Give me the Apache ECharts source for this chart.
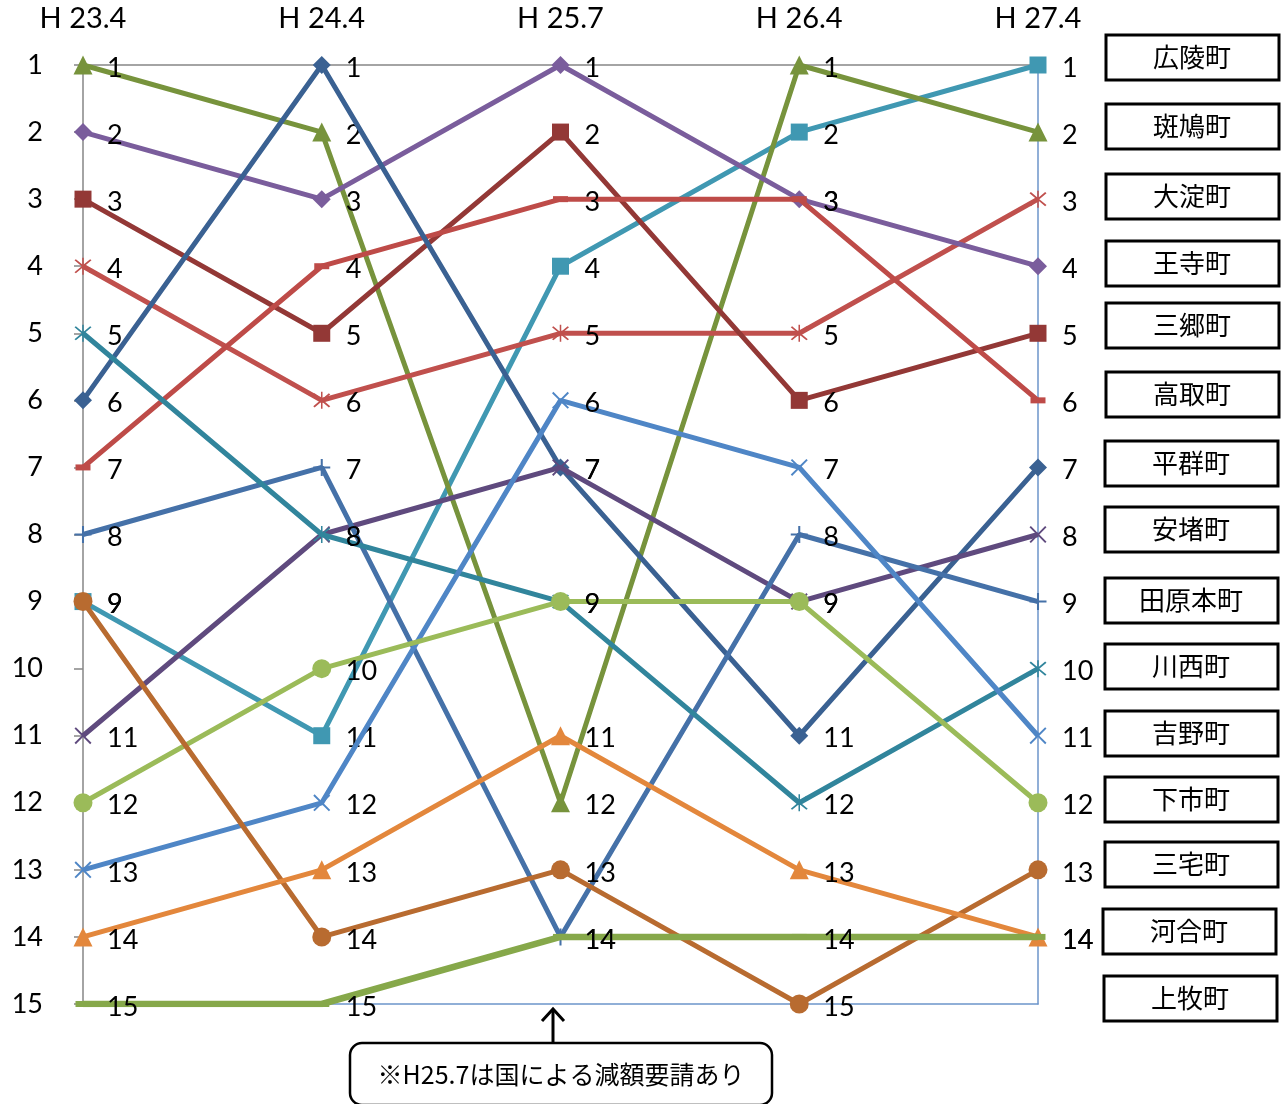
<!DOCTYPE html>
<html>
<head>
<meta charset="utf-8">
<script src="https://cdn.jsdelivr.net/npm/echarts@6/dist/echarts.min.js"></script>
<style>
html,body{margin:0;padding:0;background:#fff;}
#chart{width:1281px;height:1104px;}
</style>
</head>
<body>
<div id="chart"></div>
<script>
// ---- data ----
const periods = ['H 23.4', 'H 24.4', 'H 25.7', 'H 26.4', 'H 27.4'];
const rankTicks = [1, 15];
const towns = ['広陵町', '斑鳩町', '大淀町', '王寺町', '三郷町', '高取町', '平群町', '安堵町', '田原本町', '川西町', '吉野町', '下市町', '三宅町', '河合町', '上牧町'];
const kouryou    = [9, 11, 4, 2, 1];
const ikaruga    = [1, 2, 12, 1, 2];
const ooyodo     = [4, 6, 5, 5, 3];
const ouji       = [2, 3, 1, 3, 4];
const sangou     = [3, 5, 2, 6, 5];
const takatori   = [7, 4, 3, 3, 6];
const heguri     = [6, 1, 7, 11, 7];
const ando       = [11, 8, 7, 9, 8];
const tawaramoto = [8, 7, 14, 8, 9];
const kawanishi  = [5, 8, 9, 12, 10];
const yoshino    = [13, 12, 6, 7, 11];
const shimoichi  = [12, 10, 9, 9, 12];
const miyake     = [9, 14, 13, 15, 13];
const kawai      = [14, 13, 11, 13, 14];
const kanmaki    = [15, 15, 14, 14, 14];
const note = '※H25.7は国による減額要請あり';

// ---- styles ----
const X_PATH = 'path://M0,0.8 L0.8,0 L5,4.2 L9.2,0 L10,0.8 L5.8,5 L10,9.2 L9.2,10 L5,5.8 L0.8,10 L0,9.2 L4.2,5 Z';
const AST_PATH = 'path://M0,0.8 L0.8,0 L5,4.2 L9.2,0 L10,0.8 L5.8,5 L10,9.2 L9.2,10 L5,5.8 L0.8,10 L0,9.2 L4.2,5 Z M4.55,-1 L5.45,-1 L5.45,11 L4.55,11 Z';
const PLUS_PATH = 'path://M4.4,0 L5.6,0 L5.6,4.4 L10,4.4 L10,5.6 L5.6,5.6 L5.6,10 L4.4,10 L4.4,5.6 L0,5.6 L0,4.4 L4.4,4.4 Z';

const seriesData = [kouryou, ikaruga, ooyodo, ouji, sangou, takatori, heguri, ando, tawaramoto, kawanishi, yoshino, shimoichi, miyake, kawai, kanmaki];
const looks = [
  {c:'#4098B2', s:'rect', z:17},
  {c:'#77933C', s:'triangle', z:19},
  {c:'#C0504D', s:AST_PATH, z:17},
  {c:'#7A5D9C', s:'diamond', z:18},
  {c:'#933836', s:'rect', z:17},
  {c:'#BE4B48', s:'rect', z:[15,6]},
  {c:'#3A6192', s:'diamond', z:18},
  {c:'#5F4A7E', s:X_PATH, z:17},
  {c:'#4571A8', s:PLUS_PATH, z:17},
  {c:'#31859C', s:AST_PATH, z:17},
  {c:'#4F86C6', s:X_PATH, z:17},
  {c:'#9BBB59', s:'circle', z:19},
  {c:'#B86B30', s:'circle', z:19},
  {c:'#E3873C', s:'triangle', z:19},
  {c:'#86A84A', s:'rect', z:[15,6], w:6.5}
];

const numFont = 'Lato, "Open Sans", sans-serif';
const cjkFont = '"Noto Sans CJK JP", sans-serif';

const series = seriesData.map((d, i) => {
  const lk = looks[i];
  const sw = Array.isArray(lk.z) ? lk.z[0] : lk.z;
  return {
    name: towns[i],
    type: 'line',
    data: d,
    symbol: lk.s,
    symbolSize: lk.z,
    showAllSymbol: true,
    lineStyle: {color: lk.c, width: lk.w || 5},
    itemStyle: {color: lk.c},
    label: {
      show: true,
      position: 'right',
      distance: 24 - sw / 2,
      offset: [0, 3],
      color: '#000',
      fontSize: 27,
      fontFamily: numFont
    },
    emphasis: {disabled: true},
    z: 2 + i * 0.01
  };
});

// ---- layout for custom legend boxes ----
const boxTops = [35, 104, 174, 241, 303, 372, 441, 507, 578, 644, 711, 777, 842, 909, 976];
const boxLeft = [1106, 1106, 1106, 1106, 1106, 1106, 1105, 1105, 1105, 1105, 1105, 1105, 1105, 1103, 1104];
const graphics = [];
towns.forEach((t, i) => {
  graphics.push({
    type: 'rect',
    shape: {x: boxLeft[i], y: boxTops[i], width: 173, height: 45},
    style: {fill: '#fff', stroke: '#000', lineWidth: 3},
    z: 10
  });
  graphics.push({
    type: 'text',
    x: boxLeft[i] + 86, y: boxTops[i] + 22,
    style: {text: t, fill: '#000', font: '26px ' + cjkFont, textAlign: 'center', textVerticalAlign: 'middle'},
    z: 11
  });
});
// arrow + note box
graphics.push({type: 'line', shape: {x1: 553, y1: 1043, x2: 553, y2: 1009}, style: {stroke: '#000', lineWidth: 3}, z: 10});
graphics.push({type: 'polyline', shape: {points: [[542, 1021], [553, 1009], [564, 1021]]}, style: {stroke: '#000', lineWidth: 3, fill: null}, z: 10});
graphics.push({type: 'rect', shape: {x: 350, y: 1043, width: 422, height: 62, r: 12}, style: {fill: '#fff', stroke: '#000', lineWidth: 2.5}, z: 10});
graphics.push({type: 'text', x: 561, y: 1074, style: {text: note, fill: '#000', font: '25px ' + cjkFont, textAlign: 'center', textVerticalAlign: 'middle'}, z: 11});

const chart = echarts.init(document.getElementById('chart'), null, {renderer: 'canvas'});
chart.setOption({
  animation: false,
  backgroundColor: '#fff',
  grid: {left: 83, right: 243, top: 65, bottom: 100, containLabel: false},
  xAxis: [
    {
      type: 'category', data: periods, boundaryGap: false, position: 'top',
      axisLine: {show: true, lineStyle: {color: '#868686', width: 1.5}},
      axisTick: {show: false},
      axisLabel: {color: '#000', fontSize: 29, fontFamily: numFont, margin: 32},
      splitLine: {show: false}
    },
    {
      type: 'category', data: periods, boundaryGap: false, position: 'bottom',
      axisLine: {show: true, onZero: false, lineStyle: {color: '#6C95CA', width: 1.5}},
      axisTick: {show: false}, axisLabel: {show: false}, splitLine: {show: false}
    }
  ],
  yAxis: [
    {
      type: 'value', min: rankTicks[0], max: rankTicks[1], interval: 1, inverse: true, position: 'left',
      axisLine: {show: true, onZero: false, lineStyle: {color: '#868686', width: 1.5}},
      axisTick: {show: true, inside: false, length: 9, lineStyle: {color: '#868686', width: 1.5}},
      axisLabel: {color: '#000', fontSize: 27, fontFamily: numFont, margin: 40, padding: [5, 0, 0, 0]},
      splitLine: {show: false}
    },
    {
      type: 'value', min: rankTicks[0], max: rankTicks[1], interval: 1, inverse: true, position: 'right',
      axisLine: {show: true, onZero: false, lineStyle: {color: '#6C95CA', width: 1.5}},
      axisTick: {show: false}, axisLabel: {show: false}, splitLine: {show: false}
    }
  ],
  series: series,
  graphic: graphics
});
</script>
</body>
</html>
